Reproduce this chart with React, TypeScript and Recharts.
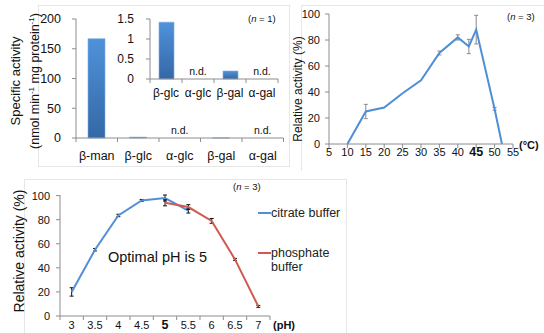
import React from 'react';
import { BarChart, Bar, LineChart, Line, XAxis, YAxis, ErrorBar, Legend } from 'recharts';

const FONT = '"Liberation Sans", Arial, sans-serif';
const AXIS = '#8c8c8c';
const INK = '#111';

// substrate specificity (top left)
const substrates = ['β-man', 'β-glc', 'α-glc', 'β-gal', 'α-gal'];
const specificActivity = [167, 1.42, 0, 0.2, 0];
const notDetected = [false, false, true, false, true];
const activityTicks = [0, 50, 100, 150, 200];

// inset, minor substrates only
const insetSubstrates = ['β-glc', 'α-glc', 'β-gal', 'α-gal'];
const insetActivity = [1.42, 0, 0.2, 0];
const insetNotDetected = [false, true, false, true];
const insetTicks = [0, 0.5, 1, 1.5];

// temperature profile (top right)
const temperatures = [10, 15, 20, 25, 30, 35, 40, 43, 45, 50, 52];
const tempActivity = [0, 25, 28, 39, 49, 70, 82, 75, 88, 27, 0];
const tempError = [0, 5.5, 0, 0, 0, 1.5, 2, 5.5, 11, 1, 0];
const tempTicks = [5, 10, 15, 20, 25, 30, 35, 40, 45, 50, 55];
const relTicks = [0, 20, 40, 60, 80, 100];

// pH profile (bottom)
const phValues = ['3', '3.5', '4', '4.5', '5', '5.5', '6', '6.5', '7'];
const citrate = [20, 55, 83.5, 96, 98, 87.5, null, null, null];
const citrateError = [3.5, 1, 1, 0.8, 2.5, 2, null, null, null];
const phosphate = [null, null, null, null, 94, 90.5, 79, 47, 8];
const phosphateError = [null, null, null, null, 2.5, 2, 2, 0.8, 0.8];

const mainRows = substrates.map((name, i) => ({ name, value: specificActivity[i] }));
const insetRows = insetSubstrates.map((name, i) => ({ name, value: insetActivity[i] }));
const tempRows = temperatures.map((t, i) => ({ t, act: tempActivity[i], err: tempError[i] }));
const phRows = phValues.map((ph, i) => ({
  ph,
  citrate: citrate[i],
  citrateErr: citrateError[i],
  phosphate: phosphate[i],
  phosphateErr: phosphateError[i],
}));

// Excel-style category tick: marks sit between categories, label in the middle,
// optional "n.d." just above the axis for substrates with no activity
const BandTick = (props: any) => {
  const { x, y, payload, index, half, count, dy, fontSize, boldValue, nd } = props;
  const bold = boldValue !== undefined && payload.value === boldValue;
  return (
    <g>
      <line x1={x - half} y1={y} x2={x - half} y2={y + 4} stroke={AXIS} />
      {index === count - 1 && <line x1={x + half} y1={y} x2={x + half} y2={y + 4} stroke={AXIS} />}
      <text
        x={x}
        y={y + dy}
        textAnchor="middle"
        fontSize={bold ? fontSize + 1.5 : fontSize}
        fontWeight={bold ? 700 : 400}
        fontFamily={FONT}
        fill={INK}
      >
        {payload.value}
      </text>
      {nd && nd[index] && (
        <text x={x} y={y - 4} textAnchor="middle" fontSize={10.5} fontFamily={FONT} fill={INK}>
          n.d.
        </text>
      )}
    </g>
  );
};

const NumTick = (props: any) => {
  const { x, y, payload } = props;
  const bold = payload.value === 45;
  return (
    <text
      x={x}
      y={y + 8}
      textAnchor="middle"
      fontSize={bold ? 12.5 : 11}
      fontWeight={bold ? 700 : 400}
      fontFamily={FONT}
      fill={INK}
    >
      {payload.value}
    </text>
  );
};

const BufferLegend = ({ payload }: any) => (
  <div style={{ fontFamily: FONT, fontSize: 12.5, color: '#222' }}>
    {(payload || []).map((entry: any, i: number) => (
      <div key={entry.value} style={{ display: 'flex', alignItems: 'flex-start', marginBottom: i === 0 ? 26 : 0 }}>
        <span style={{ width: 13, height: 2, background: entry.color, marginTop: 6, flex: 'none' }} />
        <span style={{ lineHeight: '14px', width: 76 }}>{entry.value}</span>
      </div>
    ))}
  </div>
);

const VLabel = ({ cx, cy, w, h, size, children }: any) => (
  <div
    style={{
      position: 'absolute',
      left: cx - w / 2,
      top: cy - h / 2,
      width: w,
      height: h,
      transform: 'rotate(-90deg)',
      textAlign: 'center',
      fontFamily: FONT,
      fontSize: size,
      lineHeight: '16px',
      color: INK,
      whiteSpace: 'nowrap',
    }}
  >
    {children}
  </div>
);

const Note = ({ left, top, size = 9.5, bold = false, children }: any) => (
  <div
    style={{
      position: 'absolute',
      left,
      top,
      fontFamily: FONT,
      fontSize: size,
      fontWeight: bold ? 700 : 400,
      color: INK,
      whiteSpace: 'nowrap',
      lineHeight: 1,
    }}
  >
    {children}
  </div>
);

const frame = (left: number, top: number, width: number, height: number, extra: React.CSSProperties = {}) =>
  ({
    position: 'absolute',
    left,
    top,
    width,
    height,
    border: '1px solid #e6e6e6',
    ...extra,
  }) as React.CSSProperties;

const sup = { fontSize: 8, verticalAlign: 5 } as React.CSSProperties;

export default function App() {
  return (
    <div
      style={{
        position: 'absolute',
        left: 0,
        top: 0,
        width: 544,
        height: 333,
        overflow: 'hidden',
        background: '#fff',
        fontFamily: FONT,
      }}
    >
      <div style={frame(38, 5, 250, 160)} />
      <div style={frame(301, 5, 260, 165, { borderBottom: 'none' })} />
      <div style={frame(24, 179, 321, 200)} />

      {/* substrate specificity */}
      <div style={{ position: 'absolute', left: 0, top: 0 }}>
        <BarChart width={290} height={165} data={mainRows} margin={{ top: 19, right: 6.5, bottom: 0, left: 0 }} barSize={17}>
          <defs>
            <linearGradient id="barBlue" x1="0" y1="0" x2="0" y2="1">
              <stop offset="0" stopColor="#4F92DA" />
              <stop offset="1" stopColor="#3468A6" />
            </linearGradient>
          </defs>
          <XAxis
            dataKey="name"
            height={27}
            interval={0}
            tickSize={0}
            tickMargin={0}
            tickLine={false}
            axisLine={{ stroke: AXIS }}
            tick={(p: any) => <BandTick {...p} half={20.75} count={5} dy={21.5} fontSize={12.5} nd={notDetected} />}
          />
          <YAxis
            width={76}
            domain={[0, 200]}
            ticks={activityTicks}
            interval={0}
            tickSize={4}
            tickMargin={11}
            axisLine={{ stroke: AXIS }}
            tickLine={{ stroke: AXIS }}
            tick={{ fontSize: 12.5, fill: INK, fontFamily: FONT }}
          />
          <Bar dataKey="value" fill="url(#barBlue)" stroke="#7DB0E4" strokeWidth={0.6} isAnimationActive={false} />
        </BarChart>
      </div>

      {/* inset */}
      <div style={{ position: 'absolute', left: 100, top: 0 }}>
        <BarChart width={185} height={100} data={insetRows} margin={{ top: 19, right: 7, bottom: 0, left: 0 }} barSize={15}>
          <XAxis
            dataKey="name"
            height={21}
            interval={0}
            tickSize={0}
            tickMargin={0}
            tickLine={false}
            axisLine={{ stroke: AXIS }}
            tick={(p: any) => <BandTick {...p} half={16} count={4} dy={17.5} fontSize={12} nd={insetNotDetected} />}
          />
          <YAxis
            width={50}
            domain={[0, 1.5]}
            ticks={insetTicks}
            interval={0}
            tickSize={4}
            tickMargin={12}
            axisLine={{ stroke: AXIS }}
            tickLine={{ stroke: AXIS }}
            tick={{ fontSize: 12, fill: INK, fontFamily: FONT }}
          />
          <Bar dataKey="value" fill="url(#barBlue)" stroke="#7DB0E4" strokeWidth={0.6} isAnimationActive={false} />
        </BarChart>
      </div>

      <VLabel cx={25} cy={81} w={180} h={34} size={13}>
        Specific activity
        <br />
        <span style={{ fontSize: 12.5 }}>
          (nmol min<span style={sup}>-1</span> mg protein<span style={sup}>-1</span>)
        </span>
      </VLabel>
      <Note left={248} top={14}>
        (<i>n</i> = 1)
      </Note>

      {/* temperature */}
      <div style={{ position: 'absolute', left: 280, top: 0 }}>
        <LineChart width={264} height={165} data={tempRows} margin={{ top: 14, right: 31, bottom: 0, left: 0 }}>
          <XAxis
            dataKey="t"
            type="number"
            domain={[5, 55]}
            ticks={tempTicks}
            interval={0}
            height={21}
            tickSize={4}
            tickMargin={0}
            axisLine={{ stroke: AXIS }}
            tickLine={{ stroke: AXIS }}
            tick={NumTick}
          />
          <YAxis
            width={49}
            domain={[0, 100]}
            ticks={relTicks}
            interval={0}
            tickSize={4}
            tickMargin={5}
            axisLine={{ stroke: AXIS }}
            tickLine={{ stroke: AXIS }}
            tick={{ fontSize: 11, fill: INK, fontFamily: FONT }}
          />
          <Line dataKey="act" type="linear" stroke="#4F8ED6" strokeWidth={2} dot={false} isAnimationActive={false}>
            <ErrorBar dataKey="err" direction="y" width={2} stroke="#8a8a8a" strokeWidth={1} />
          </Line>
        </LineChart>
      </div>
      <VLabel cx={298} cy={89} w={130} h={16} size={12}>
        Relative activity (%)
      </VLabel>
      <Note left={507} top={12}>
        (<i>n</i> = 3)
      </Note>
      <Note left={519} top={140} size={11} bold>
        (°C)
      </Note>

      {/* pH */}
      <div style={{ position: 'absolute', left: 0, top: 170 }}>
        <LineChart width={350} height={163} data={phRows} margin={{ top: 25, right: 80, bottom: 0, left: 0 }}>
          <XAxis
            dataKey="ph"
            height={17}
            interval={0}
            padding={{ left: 11.67, right: 11.67 }}
            tickSize={0}
            tickMargin={0}
            tickLine={false}
            axisLine={{ stroke: AXIS }}
            tick={(p: any) => <BandTick {...p} half={11.67} count={9} dy={13} fontSize={11} boldValue="5" />}
          />
          <YAxis
            width={60}
            domain={[0, 100]}
            ticks={relTicks}
            interval={0}
            tickSize={4}
            tickMargin={6}
            axisLine={{ stroke: AXIS }}
            tickLine={{ stroke: AXIS }}
            tick={{ fontSize: 11, fill: INK, fontFamily: FONT }}
          />
          <Legend
            layout="vertical"
            align="center"
            verticalAlign="middle"
            content={BufferLegend}
            wrapperStyle={{ left: 258, top: 36, width: 92 }}
          />
          <Line
            dataKey="citrate"
            name="citrate buffer"
            type="linear"
            stroke="#5290D6"
            strokeWidth={2}
            dot={false}
            isAnimationActive={false}
          >
            <ErrorBar dataKey="citrateErr" direction="y" width={2} stroke="#111" strokeWidth={1} />
          </Line>
          <Line
            dataKey="phosphate"
            name="phosphate buffer"
            type="linear"
            stroke="#D05A50"
            strokeWidth={2}
            dot={false}
            isAnimationActive={false}
          >
            <ErrorBar dataKey="phosphateErr" direction="y" width={2} stroke="#111" strokeWidth={1} />
          </Line>
        </LineChart>
      </div>
      <VLabel cx={19} cy={251} w={150} h={16} size={14}>
        Relative activity (%)
      </VLabel>
      <Note left={233} top={182}>
        (<i>n</i> = 3)
      </Note>
      <Note left={108} top={250} size={14.5}>
        Optimal pH is 5
      </Note>
      <Note left={273} top={320} size={11} bold>
        (pH)
      </Note>
    </div>
  );
}
